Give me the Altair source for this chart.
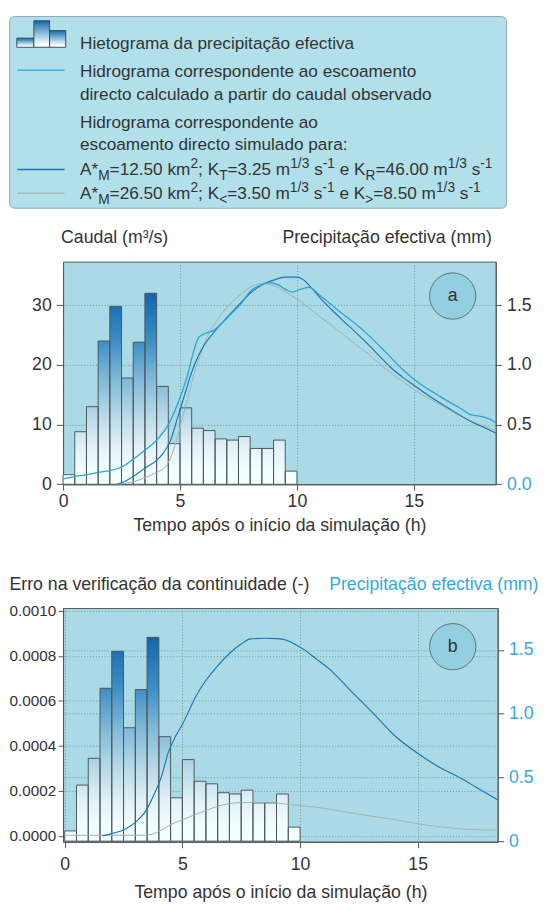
import altair as alt
import numpy as np
import pandas as pd

FONT = "Liberation Sans"
TXT = "#333333"
CYAN = "#35aad8"
PLOT_BG = "#a9dae6"
LEG_BG = "#b2e0ea"
C_OBS = "#2ea3d4"
C_SIM1 = "#1c74b4"
C_SIM2 = "#9fb0b6"

# ---------------- data ----------------
bar_start = [0.0, 0.5, 1.0, 1.5, 2.0, 2.5, 3.0, 3.5, 4.0, 4.5,
             5.0, 5.5, 6.0, 6.5, 7.0, 7.5, 8.0, 8.5, 9.0, 9.5]
bar_mm = [0.08, 0.44, 0.65, 1.20, 1.49, 0.89, 1.19, 1.60, 0.82, 0.34,
          0.64, 0.47, 0.45, 0.38, 0.37, 0.40, 0.30, 0.30, 0.37, 0.11]

obs_t = [0, 0.5, 1.0, 1.5, 2.0, 2.5, 3.0, 3.5, 4.0, 4.5, 5.0, 5.3, 5.6, 5.8, 6.1, 6.4,
         6.8, 7.2, 7.6, 8.0, 8.4, 8.8, 9.2, 9.5, 9.8, 10.1, 10.5, 11.0, 11.5, 12.0,
         12.5, 13.0, 13.5, 14.0, 14.5, 15.0, 15.5, 16.0, 16.5, 17.0, 17.4, 17.8, 18.2, 18.5]
obs_q = [0.9, 1.3, 1.6, 2.0, 2.3, 2.9, 4.2, 5.7, 7.4, 10.0, 14.5, 18.0, 22.5, 24.6, 25.3, 25.7,
         27.0, 28.6, 30.2, 32.3, 33.3, 33.8, 33.4, 32.7, 32.2, 32.6, 33.0, 31.6, 30.0, 28.4,
         26.9, 25.2, 23.3, 21.3, 19.3, 17.6, 16.2, 15.0, 13.8, 12.7, 11.7, 11.4, 11.0, 10.3]

sim1_t = [2.3, 2.7, 3.0, 3.5, 4.0, 4.3, 4.6, 4.9, 5.2, 5.5, 5.8, 6.0, 6.5, 7.0, 7.5, 8.0,
          8.5, 9.0, 9.5, 10.0, 10.3, 10.6, 11.0, 11.5, 12.0, 12.5, 13.0, 13.5, 14.0, 14.5,
          15.0, 15.5, 16.0, 16.5, 17.0, 17.5, 18.0, 18.5]
sim1_q = [0.0, 0.6, 1.3, 2.7, 4.0, 5.3, 7.4, 11.2, 15.0, 18.8, 21.6, 23.1, 25.7, 27.9, 30.0, 32.0,
          33.4, 34.2, 34.7, 34.7, 34.2, 33.0, 31.2, 29.2, 27.3, 25.5, 23.6, 21.6, 19.6, 18.0,
          16.6, 15.2, 13.9, 12.7, 11.5, 10.4, 9.5, 8.6]

sim2_t = [2.3, 3.0, 3.5, 4.0, 4.4, 4.7, 5.0, 5.3, 5.6, 5.9, 6.2, 6.5, 7.0, 7.5, 8.0, 8.5,
          9.0, 9.5, 10.0, 10.5, 11.0, 11.5, 12.0, 12.5, 13.0, 13.5, 14.0, 14.5, 15.0, 15.5,
          16.0, 16.5, 17.0, 17.5, 18.0, 18.5]
sim2_q = [0.0, 0.4, 1.1, 2.0, 3.0, 5.5, 9.5, 14.0, 18.5, 22.0, 25.0, 27.0, 29.6, 31.5, 33.0, 33.6,
          33.3, 32.3, 31.0, 29.6, 28.0, 26.6, 25.0, 23.5, 22.0, 20.3, 18.7, 17.3, 15.9, 14.7,
          13.6, 12.5, 11.4, 10.5, 9.7, 9.0]

err1_t = [1.6, 2.0, 2.6, 3.0, 3.5, 3.8, 4.1, 4.4, 4.7, 5.0, 5.6, 6.0, 6.5, 7.0, 7.5, 7.9,
          8.5, 9.0, 9.4, 9.8, 10.2, 10.7, 11.2, 12.2, 13.2, 14.0, 15.0, 16.0, 16.8, 17.5, 18.4]
err1_v = [0.0, 0.000010, 0.000032, 0.000060, 0.000120, 0.000185, 0.000260, 0.000370, 0.000440,
          0.000495, 0.000625, 0.000690, 0.000755, 0.000810, 0.000852, 0.000875, 0.000878,
          0.000876, 0.000870, 0.000850, 0.000825, 0.000785, 0.000745, 0.000640, 0.000535,
          0.000447, 0.000367, 0.000300, 0.000258, 0.000215, 0.000160]

err2_t = [0.0, 3.5, 4.0, 4.4, 5.0, 5.8, 6.8, 7.6, 8.7, 9.5, 10.7, 12.0, 13.0, 14.0, 15.0,
          16.0, 17.0, 18.4]
err2_v = [0.000003, 0.000003, 0.000020, 0.000045, 0.000072, 0.000105, 0.000140, 0.000148,
          0.000148, 0.000140, 0.000127, 0.000105, 0.000088, 0.000073, 0.000054, 0.000040,
          0.000030, 0.000025]

x_ticks = [0, 5, 10, 15]
qa_ticks = [0, 10, 20, 30]
mm_ticks = [0, 0.5, 1.0, 1.5]
err_ticks = [0, 0.0002, 0.0004, 0.0006, 0.0008, 0.0010]

legend_lines = [
    "Hietograma da precipitação efectiva",
    "Hidrograma correspondente ao escoamento",
    "directo calculado a partir do caudal observado",
    "Hidrograma correspondente ao",
    "escoamento directo simulado para:",
]
legend_rich = [
    [("A*", "n"), ("M", "sub"), ("=12.50 km", "n"), ("2", "sup"), ("; K", "n"), ("T", "sub"),
     ("=3.25 m", "n"), ("1/3", "sup"), (" s", "n"), ("-1", "sup"), (" e K", "n"), ("R", "sub"),
     ("=46.00 m", "n"), ("1/3", "sup"), (" s", "n"), ("-1", "sup")],
    [("A*", "n"), ("M", "sub"), ("=26.50 km", "n"), ("2", "sup"), ("; K", "n"), ("<", "sub"),
     ("=3.50 m", "n"), ("1/3", "sup"), (" s", "n"), ("-1", "sup"), (" e K", "n"), (">", "sub"),
     ("=8.50 m", "n"), ("1/3", "sup"), (" s", "n"), ("-1", "sup")],
]

# ---------------- derived tables ----------------
one = pd.DataFrame({"k": [0]})
bars = pd.DataFrame({"t0": bar_start, "t1": [t + 0.5 for t in bar_start],
                     "mm": bar_mm, "zero": [0.0] * len(bar_mm)})

step = 0.01
rows = []
for t0, h in zip(bar_start, bar_mm):
    n = int(np.ceil(h / step - 1e-9))
    for k in range(n):
        lo = k * step
        rows.append({"t0": t0, "t1": t0 + 0.5, "lo": lo,
                     "hi": min(lo + 2 * step, h), "c": lo + step / 2})
slices = pd.DataFrame(rows)

lines_a = pd.concat([
    pd.DataFrame({"t": sim2_t, "q": sim2_q, "s": "sim2"}),
    pd.DataFrame({"t": sim1_t, "q": sim1_q, "s": "sim1"}),
    pd.DataFrame({"t": obs_t, "q": obs_q, "s": "obs"}),
])
lines_b = pd.concat([
    pd.DataFrame({"t": err2_t, "e": err2_v, "s": "sim2"}),
    pd.DataFrame({"t": err1_t, "e": err1_v, "s": "sim1"}),
])

grad_scale = alt.Scale(domain=[0.08, 0.3, 0.6, 0.9, 1.2, 1.6],
                       range=["#ffffff", "#e4f2f7", "#b3d7e7", "#7db7d6", "#3d8fc6", "#1167aa"],
                       clamp=True)


def txt(s, x, y, align="left", color=TXT, size=18):
    return alt.Chart(one).mark_text(text=s, align=align, baseline="middle", font=FONT,
                                    fontSize=size, color=color).encode(
        x=alt.value(x), y=alt.value(y))


def circle(x, y, letter):
    c = alt.Chart(one).mark_circle(size=2209, color="#93cfe1", opacity=1, stroke="#4f5b60",
                                   strokeWidth=0.8).encode(x=alt.value(x), y=alt.value(y))
    return c + txt(letter, x, y, align="center")


def xaxis(tick, lpad, tpad):
    return alt.Axis(values=x_ticks, format="d", title="Tempo após o início da simulação (h)",
                    tickSize=tick, labelPadding=lpad, titlePadding=tpad, grid=True,
                    labelFlush=False)


def panel(xscale, xax, mm_scale, mm_axis, y_layer):
    slc = alt.Chart(slices).mark_rect(strokeWidth=0).encode(
        x=alt.X("t0:Q", scale=xscale, axis=xax), x2="t1:Q",
        y=alt.Y("lo:Q", scale=mm_scale, axis=mm_axis), y2="hi:Q",
        fill=alt.Fill("c:Q", scale=grad_scale, legend=None))
    outl = alt.Chart(bars).mark_rect(fillOpacity=0, stroke="#4d585d", strokeWidth=1).encode(
        x=alt.X("t0:Q", scale=xscale, axis=xax), x2="t1:Q",
        y=alt.Y("zero:Q", scale=mm_scale, axis=None), y2="mm:Q")
    return [slc, outl, y_layer]


# ---------------- panel a ----------------
xa = alt.Scale(domain=[0, 18.5], nice=False, zero=False)
xax_a = xaxis(6, 3, 6)
mm_a = alt.Scale(domain=[0, 1.865], nice=False, zero=False)
q_a = alt.Scale(domain=[0, 37.3], nice=False, zero=False)
mm_axis_a = alt.Axis(orient="right", values=mm_ticks, labelExpr="format(datum.value, '.1f')",
                     labelColor={"condition": {"test": "datum.value == 0", "value": CYAN},
                                 "value": TXT},
                     tickSize=6, labelPadding=5, grid=False, title=None)
q_axis_a = alt.Axis(orient="left", values=qa_ticks, format="d", tickSize=7, labelPadding=5,
                    grid=True, title=None)
line_layer_a = alt.Chart(lines_a).mark_line(interpolate="monotone").encode(
    x=alt.X("t:Q", scale=xa, axis=xax_a),
    y=alt.Y("q:Q", scale=q_a, axis=q_axis_a),
    stroke=alt.Stroke("s:N", scale=alt.Scale(domain=["sim2", "sim1", "obs"],
                                             range=[C_SIM2, C_SIM1, C_OBS]), legend=None),
    strokeWidth=alt.StrokeWidth("s:N", scale=alt.Scale(domain=["sim2", "sim1", "obs"],
                                                       range=[1.0, 1.3, 1.3]), legend=None))
pa = alt.layer(
    *panel(xa, xax_a, mm_a, mm_axis_a, line_layer_a),
    circle(396.2, 35, "a"),
    txt("Caudal (m³/s)", -2, -24.3),
    txt("Precipitação efectiva (mm)", 436, -24.3, align="right"),
).resolve_scale(y="independent").properties(
    width=440, height=226.4,
    view=alt.ViewBackground(fill=PLOT_BG, stroke="#555555", strokeWidth=1))

# ---------------- panel b ----------------
xb = alt.Scale(domain=[-0.07, 18.4], nice=False, zero=False)
xax_b = xaxis(6, 8, 11)
mm_b = alt.Scale(domain=[-0.0054, 1.8297], nice=False, zero=False)
e_b = alt.Scale(domain=[-0.0000262, 0.0010118], nice=False, zero=False)
mm_axis_b = alt.Axis(orient="right", values=mm_ticks,
                     labelExpr="datum.value == 0 ? '0' : format(datum.value, '.1f')",
                     labelColor=CYAN, tickSize=6, labelPadding=5, grid=True, title=None)
e_axis_b = alt.Axis(orient="left", values=err_ticks, format=".4f", tickSize=5,
                    labelPadding=2.5, labelFontSize=15.5, grid=True, title=None)
line_layer_b = alt.Chart(lines_b).mark_line(interpolate="monotone").encode(
    x=alt.X("t:Q", scale=xb, axis=xax_b),
    y=alt.Y("e:Q", scale=e_b, axis=e_axis_b),
    stroke=alt.Stroke("s:N", scale=alt.Scale(domain=["sim2", "sim1"], range=[C_SIM2, C_SIM1]),
                      legend=None),
    strokeWidth=alt.StrokeWidth("s:N", scale=alt.Scale(domain=["sim2", "sim1"],
                                                       range=[1.0, 1.3]), legend=None))
pb = alt.layer(
    *panel(xb, xax_b, mm_b, mm_axis_b, line_layer_b),
    circle(396.3, 39.3, "b"),
    txt("Erro na verificação da continuidade (-)", -54.5, -23.8),
    txt("Precipitação efectiva (mm)", 483.5, -23.8, align="right", color=CYAN),
).resolve_scale(y="independent").properties(
    width=442, height=237.7,
    view=alt.ViewBackground(fill=PLOT_BG, stroke="#555555", strokeWidth=1))

# ---------------- legend box ----------------
W = {' ': 278, '*': 389, '-': 333, '.': 278, '/': 278, ';': 278, '<': 584, '=': 584, '>': 584,
     'A': 667, 'K': 667, 'M': 833, 'R': 722, 'T': 611, 'e': 556, 'k': 500, 'm': 833, 's': 500}
for d in "0123456789":
    W[d] = 556

FS, FSS = 17.5, 14
LX = 17.2
base_y = [32.9, 61.4, 85.2, 113.4, 136.2, 161.3, 185.8]
seg_rows = []
for s, y in zip(legend_lines, base_y[:5]):
    seg_rows.append({"x": LX, "y": y, "text": s, "size": FS})
for parts, y in zip(legend_rich, base_y[5:]):
    x = LX
    for s, kind in parts:
        size = FS if kind == "n" else FSS
        dy = 0 if kind == "n" else (4.5 if kind == "sub" else -7)
        lead = len(s) - len(s.lstrip(" "))
        xs = x + lead * W[" "] / 1000 * size
        seg_rows.append({"x": xs, "y": y + dy, "text": s.strip(" "), "size": size})
        x += sum(W[c] for c in s) / 1000 * size
segs = pd.DataFrame(seg_rows)

box = alt.Chart(one).mark_rect(fill=LEG_BG, stroke="#8eaab2", strokeWidth=1, cornerRadius=5).encode(
    x=alt.value(-54.3), x2=alt.value(451), y=alt.value(0), y2=alt.value(195))
icon_grad = alt.Gradient(gradient="linear",
                         stops=[alt.GradientStop(offset=0, color="#1468ac"),
                                alt.GradientStop(offset=0.55, color="#9fcbe2"),
                                alt.GradientStop(offset=0.9, color="#ffffff"),
                                alt.GradientStop(offset=1, color="#ffffff")],
                         x1=0, x2=0, y1=0, y2=1)
icon_df = pd.DataFrame({"x": [-47, -29.7, -13.7], "x2": [-29.7, -13.7, 2.7],
                        "y": [22, 4.3, 14.3], "y2": [31.3, 31.3, 31.3]})
icon = alt.Chart(icon_df).mark_rect(fill=icon_grad, stroke="#3f4a50", strokeWidth=1).encode(
    x=alt.X("x:Q", scale=None, axis=None), x2="x2:Q",
    y=alt.Y("y:Q", scale=None, axis=None), y2="y2:Q")
samp_df = pd.DataFrame({"x": [-46.6] * 3, "x2": [1.5] * 3, "y": [54.5, 155.6, 179.7],
                        "col": [C_OBS, C_SIM1, "#a2b3b9"]})
samp = alt.Chart(samp_df).mark_rule(strokeWidth=1.3).encode(
    x=alt.X("x:Q", scale=None, axis=None), x2="x2:Q",
    y=alt.Y("y:Q", scale=None, axis=None), color=alt.Color("col:N", scale=None))
leg_text = alt.Chart(segs).mark_text(align="left", baseline="alphabetic", font=FONT,
                                     color=TXT).encode(
    x=alt.X("x:Q", scale=None, axis=None), y=alt.Y("y:Q", scale=None, axis=None),
    text="text:N", size=alt.Size("size:Q", scale=None))
legend = alt.layer(box, icon, samp, leg_text).properties(
    width=440, height=124,
    view=alt.ViewBackground(fill="transparent", stroke="transparent"))

chart = alt.vconcat(legend, pa, pb, spacing=125.3, bounds="flush").properties(
    padding={"left": 0, "top": 0, "right": 0, "bottom": 0}, background="white"
).configure_axis(
    labelFont=FONT, labelFontSize=18, labelColor=TXT, titleFont=FONT, titleFontSize=18,
    titleFontWeight="normal", titleColor=TXT, domainColor="#555555", tickColor="#555555",
    gridColor="#6f8c96", gridDash=[1, 2], gridWidth=1, gridOpacity=0.9, zindex=1
)

chart.save("out.html", embed_options={"renderer": "svg", "actions": False})
